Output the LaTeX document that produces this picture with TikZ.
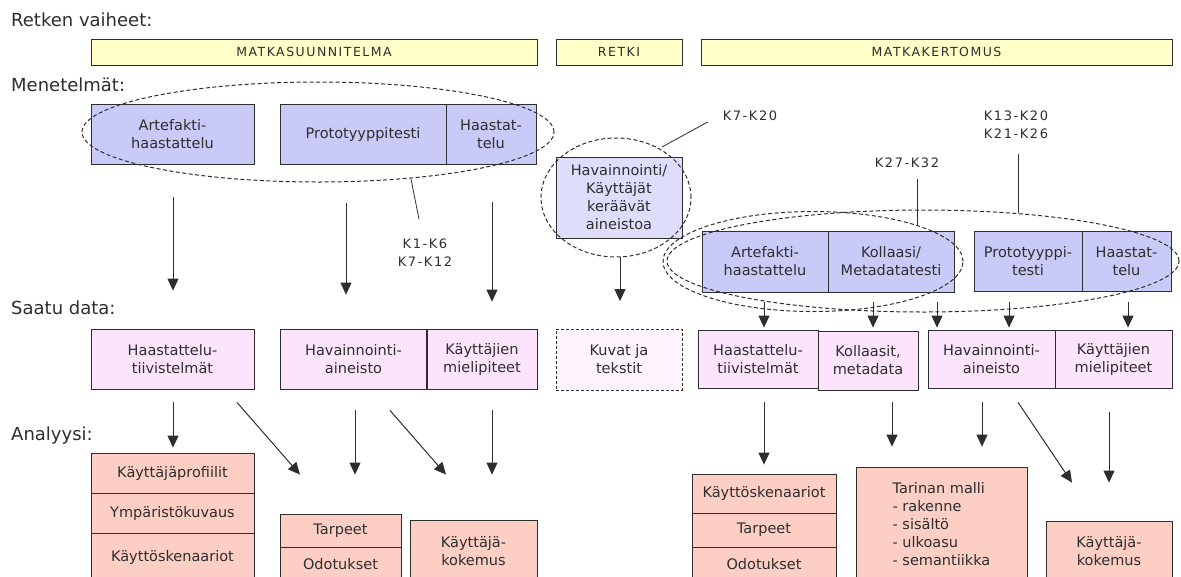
\documentclass[tikz,border=0pt]{standalone}
\usepackage{fontspec}
\setmainfont{DejaVu Sans}
\newfontfamily\spc{DejaVu Sans}[LetterSpace=12]
\newfontfamily\spk{DejaVu Sans}[LetterSpace=12]
\usetikzlibrary{arrows.meta,shapes.geometric}
\definecolor{barY}{HTML}{FFFFC8}
\definecolor{methC}{HTML}{CACAF8}
\definecolor{methL}{HTML}{DEDEFC}
\definecolor{dataC}{HTML}{FCE4FC}
\definecolor{dataL}{HTML}{FEF4FE}
\definecolor{anaC}{HTML}{FCCEC4}
\definecolor{ink}{HTML}{2E2E2E}
\tikzset{
 bx/.style={draw=ink, line width=0.8pt, align=center, inner sep=0pt, text=ink, font=\fontsize{14.5}{18}\selectfont},
 phase/.style={bx, fill=barY, minimum height=26pt, font=\spc\fontsize{12.5}{14}\selectfont},
 meth/.style={bx, fill=methC},
 methlight/.style={bx, fill=methL},
 dat/.style={bx, fill=dataC},
 datdash/.style={bx, fill=dataL, dash pattern=on 3pt off 2pt},
 ana/.style={bx, fill=anaC},
 ell/.style={draw=ink, ellipse, inner sep=0pt, line width=1pt, dash pattern=on 4pt off 2.5pt},
 arr/.style={draw=ink, line width=1pt, -{Triangle[width=11pt,length=12pt]}},
 klbl/.style={font=\spk\fontsize{13}{18.5}\selectfont, text=ink, align=center, inner sep=1pt},
 head/.style={font=\fontsize{18}{20}\selectfont, text=ink, anchor=west, inner sep=0pt},
 lead/.style={draw=ink, line width=0.8pt},
 sep/.style={draw=ink, line width=1.6pt}
}
\begin{document}
\begin{tikzpicture}[x=1pt,y=-1pt]
\useasboundingbox (0,0) rectangle (1181,576);
\fill[white] (0,0) rectangle (1181,576);
\clip (0,0) rectangle (1181,576);

% headings
\node[head] (h1) at (11,20) {Retken vaiheet:};
\node[head] (h2) at (11,85) {Menetelmät:};
\node[head] (h3) at (11,308) {Saatu data:};
\node[head] (h4) at (11,436) {Analyysi:};

% phases
\node[phase, minimum width=446pt] (p1) at (314,52) {MATKASUUNNITELMA};
\node[phase, minimum width=126pt] (p2) at (619,52) {RETKI};
\node[phase, minimum width=471pt] (p3) at (936.5,52) {MATKAKERTOMUS};

% methods
\node[meth, minimum width=163pt, minimum height=60pt] (m1) at (172.5,134) {Artefakti-\\haastattelu};
\node[meth, minimum width=166pt, minimum height=60pt] (m2) at (363,134) {Prototyyppitesti};
\node[meth, minimum width=90pt, minimum height=60pt] (m3) at (491,134) {Haastat-\\telu};
\node[methlight, minimum width=126pt, minimum height=81pt] (m4) at (619,197.5) {Havainnointi/\\Käyttäjät\\keräävät\\aineistoa};
\node[meth, minimum width=126pt, minimum height=61pt] (m5) at (765,261.5) {Artefakti-\\haastattelu};
\node[meth, minimum width=126pt, minimum height=61pt] (m6) at (891,261.5) {Kollaasi/\\Metadatatesti};
\node[meth, minimum width=108pt, minimum height=60pt] (m7) at (1028,261) {Prototyyppi-\\testi};
\node[meth, minimum width=89pt, minimum height=60pt] (m8) at (1126.5,261) {Haastat-\\telu};

% data
\node[dat, minimum width=163pt, minimum height=60pt] (d1) at (172.5,359) {Haastattelu-\\tiivistelmät};
\node[dat, minimum width=147pt, minimum height=60pt] (d2) at (353.5,359) {Havainnointi-\\aineisto};
\node[dat, minimum width=110pt, minimum height=60pt] (d3) at (482,359) {Käyttäjien\\mielipiteet};
\node[datdash, minimum width=126pt, minimum height=61pt] (d4) at (619,359.5) {Kuvat ja\\tekstit};
\node[dat, minimum width=120pt, minimum height=58pt] (d5) at (758,359) {Haastattelu-\\tiivistelmät};
\node[dat, minimum width=100pt, minimum height=59pt] (d6) at (868,360.5) {Kollaasit,\\metadata};
\node[dat, minimum width=127pt, minimum height=58pt] (d7) at (991.5,359) {Havainnointi-\\aineisto};
\node[dat, minimum width=117pt, minimum height=58pt] (d8) at (1113.5,359) {Käyttäjien\\mielipiteet};
\draw[sep] (d3.north west) -- (d3.south west);

% analysis
\node[ana, minimum width=163pt, minimum height=40pt] (a1) at (172.5,473) {Käyttäjäprofiilit};
\node[ana, minimum width=163pt, minimum height=40pt] (a2) at (172.5,513) {Ympäristökuvaus};
\node[ana, minimum width=163pt, minimum height=49pt] (a3) at (172.5,557.5) {Käyttöskenaariot};
\draw[sep] (a1.south west) -- (a1.south east);
\node[ana, minimum width=121pt, minimum height=33pt] (a4) at (340.5,530.5) {Tarpeet};
\node[ana, minimum width=121pt, minimum height=35pt] (a5) at (340.5,564.5) {Odotukset};
\node[ana, minimum width=127pt, minimum height=62pt] (a6) at (473.5,551) {Käyttäjä-\\kokemus};
\node[ana, minimum width=144pt, minimum height=39pt] (a7) at (764,493.5) {Käyttöskenaariot};
\node[ana, minimum width=144pt, minimum height=34pt] (a8) at (764,530) {Tarpeet};
\node[ana, minimum width=144pt, minimum height=35pt] (a9) at (764,564.5) {Odotukset};
\draw[sep] (a7.south west) -- (a7.south east);
\node[ana, minimum width=171pt, minimum height=115pt, align=left] (a10) at (941.5,524.5) {Tarinan malli\\- rakenne\\- sisältö\\- ulkoasu\\- semantiikka};
\node[ana, minimum width=126pt, minimum height=61pt] (a11) at (1109,551.5) {Käyttäjä-\\kokemus};

% ellipses
\node[ell, minimum width=472pt, minimum height=100pt] (e1) at (318,132) {};
\node[ell, minimum width=150pt, minimum height=119pt] (e2) at (616,197.5) {};
\node[ell, minimum width=300pt, minimum height=100pt] (e3) at (813,261.5) {};
\node[ell, minimum width=512pt, minimum height=102pt] (e4) at (923,261) {};

% arrows methods -> data
\draw[arr] ([shift={(0.5,33)}]m1.south) -- ([shift={(0.5,-38)}]d1.north);
\draw[arr] ([shift={(-17,39)}]m2.south) -- ([shift={(-7.5,-34)}]d2.north);
\draw[arr] ([shift={(1,38)}]m3.south) -- ([shift={(10,-27)}]d3.north);
\draw[arr] ([shift={(1,19)}]m4.south) -- ([shift={(1,-27.5)}]d4.north);
\draw[arr] ([shift={(-1,10)}]m5.south) -- ([shift={(6,-2)}]d5.north);
\draw[arr] ([shift={(-18,10)}]m6.south) -- ([shift={(5,-3)}]d6.north);
\draw[arr] ([shift={(46,10)}]m6.south) -- ([shift={(-54.5,-2)}]d7.north);
\draw[arr] ([shift={(-19,11)}]m7.south) -- ([shift={(17.5,-2)}]d7.north);
\draw[arr] ([shift={(1.5,11)}]m8.south) -- ([shift={(14.5,-2)}]d8.north);

% arrows data -> analysis
\draw[arr] ([shift={(0.5,13)}]d1.south) -- ([shift={(0.5,-5)}]a1.north);
\draw[arr] ([shift={(64.5,13)}]d1.south) -- ([shift={(-40.5,-39)}]a4.north);
\draw[arr] ([shift={(1.5,21)}]d2.south) -- ([shift={(14.5,-39)}]a4.north);
\draw[arr] ([shift={(36.5,21)}]d2.south) -- ([shift={(-27.5,-45)}]a6.north);
\draw[arr] ([shift={(10,21)}]d3.south) -- ([shift={(18.5,-45)}]a6.north);
\draw[arr] ([shift={(6,14)}]d5.south) -- ([shift={(0,-9)}]a7.north);
\draw[arr] ([shift={(24,12)}]d6.south) -- ([shift={(-49.5,-20)}]a10.north);
\draw[arr] ([shift={(-9.5,14)}]d7.south) -- ([shift={(40.5,-20)}]a10.north);
\draw[arr] ([shift={(26.5,14)}]d7.south) -- ([shift={(-37,-38)}]a11.north);
\draw[arr] ([shift={(-4.5,24)}]d8.south) -- ([shift={(0,-38)}]a11.north);

% labels
\node[klbl] (k1) at (425,252.5) {K1-K6\\K7-K12};
\node[klbl] (k2) at (750,116) {K7-K20};
\node[klbl] (k3) at (907,163) {K27-K32};
\node[klbl] (k4) at (1016,125) {K13-K20\\K21-K26};
\coordinate (c1) at (411,179);
\coordinate (c2) at (662,147);
\coordinate (c3) at (917,225);
\coordinate (c4) at (1018,213);
\draw[lead] (c1) -- ([shift={(-6,-18)}]k1.north);
\draw[lead] (c2) -- ([shift={(-14,6)}]k2.west);
\draw[lead] ([shift={(10,10)}]k3.south) -- (c3);
\draw[lead] ([shift={(2,14)}]k4.south) -- (c4);
\end{tikzpicture}
\end{document}
